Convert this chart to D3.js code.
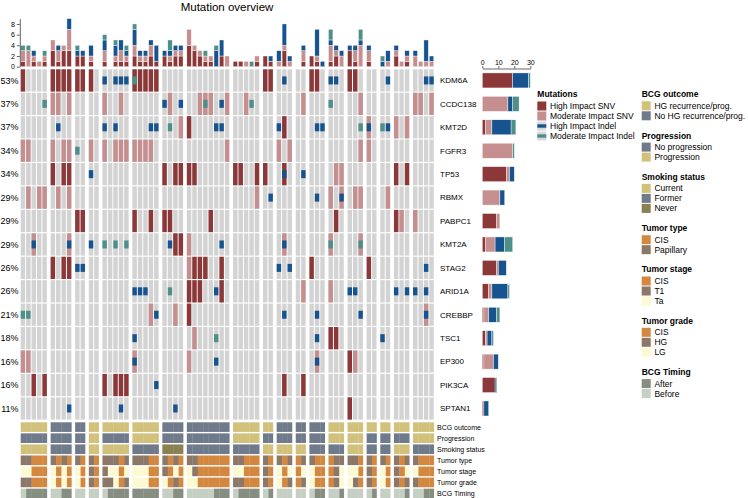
<!DOCTYPE html>
<html><head><meta charset="utf-8">
<script src="https://cdn.jsdelivr.net/npm/d3@7"></script>
<style>
body{margin:0;background:#fff}
svg{display:block}
text{font-family:"Liberation Sans",Arial,Helvetica,sans-serif;fill:#000}
</style>
</head><body>
<svg id="c" width="748" height="498"></svg>
<script>
// ---------------- data ----------------
const genes = ["KDM6A","CCDC138","KMT2D","FGFR3","TP53","RBMX","PABPC1","KMT2A","STAG2","ARID1A","CREBBP","TSC1","EP300","PIK3CA","SPTAN1"];
const pctLabels = ["53%","37%","37%","34%","34%","29%","29%","29%","26%","26%","21%","18%","16%","16%","11%"];
// number of sample columns in each patient block (left to right)
const groupSizes = [5,4,2,2,5,5,4,8,5,2,3,2,3,3,3,2,2,3,4];

const mutTypes = ["High Impact SNV","Moderate Impact SNV","High Impact Indel","Moderate Impact Indel"];
// column indices (0-based) carrying each alteration, one list per gene (same order as genes)
const highSNV = [
  [0,5,6,7,8,9,10,11,18,19,20,21,22,40,41,47,48,53,54],
  [],
  [27,43],
  [],
  [5,7,8,23,25,26,27,28,35,36,39,40,43,60,62],
  [],
  [9,10,18,21,23,24,31,51,60],
  [25,26],
  [5,7,8,28,29,30,33,47,56],
  [27,28,29,33],
  [27],
  [50,51],
  [53],
  [2,4,13,15,16,17,43,46],
  [53]
];
const modSNV = [
  [],
  [5,6,8,13,16,24,29,30,31,34,37,46,55,63,64,66],
  [26,56,60,62],
  [0,1,5,7,8,11,13,15,16,17,18,19,20,21,34,42,44,55,56],
  [51,52],
  [1,3,4,6,8,39,50,52,54,55,59],
  [61,63],
  [2,8,27,43,50,55],
  [27],
  [46,50],
  [21,25,65],
  [28],
  [0,1,18,27,48,54],
  [],
  []
];
const highIndel = [
  [13,15,16,17,43,50,51,59,65,66],
  [23,26,33],
  [6,13,15,21,22,32,33,42,48,49,56,59],
  [],
  [11,43,46],
  [41,48,52],
  [],
  [2,8,11,24,33,43],
  [9,10,42,44,65],
  [18,19,20,32,53,54,60,62,63,65],
  [22,43,48,55,65],
  [18,48,58],
  [18,32,48],
  [22],
  [8,16,25]
];
const modIndel = [
  [18],
  [4,30,38,50],
  [24,55,58],
  [9],
  [],
  [],
  [],
  [13,15,17,50,55],
  [],
  [24],
  [0,1],
  [32],
  [],
  [],
  []
];

// annotation tracks
const trackNames = ["BCG outcome","Progression","Smoking status","Tumor type","Tumor stage","Tumor grade","BCG Timing"];
// per patient block
const bcgOutcomeBlocks = ["HG","No","No","HG","HG","HG","No","No","HG","HG","No","No","No","HG","HG","HG","HG","HG","HG"];
const progressionBlocks = ["No","No","No","Prog","No","Prog","No","No","Prog","No","No","No","No","Prog","Prog","No","No","No","Prog"];
const smokingBlocks = ["Current","Former","Former","Current","Current","Former","Never","Former","Former","Current","Current","Current","Former","Former","Current","Former","Former","Current","Former"];
// per sample column
const tumorType = ["Pap","Pap","CIS","CIS","CIS", "Pap","CIS","Pap","CIS", "Pap","CIS", "Pap","CIS",
  "Pap","Pap","Pap","CIS","Pap", "Pap","Pap","Pap","CIS","CIS", "Pap","CIS","Pap","CIS",
  "Pap","Pap","CIS","CIS","CIS","CIS","CIS","CIS", "Pap","Pap","CIS","CIS","CIS", "Pap","CIS",
  "Pap","CIS","Pap", "CIS","Pap", "Pap","CIS","CIS", "CIS","Pap","Pap", "Pap","Pap","CIS",
  "Pap","CIS", "Pap","CIS", "Pap","CIS","Pap", "Pap","CIS","CIS","CIS"];
const tumorStage = ["Ta","Ta","CIS","CIS","CIS", "Ta","CIS","Ta","CIS", "Ta","CIS", "T1","CIS",
  "T1","Ta","Ta","CIS","Ta", "Ta","Ta","Ta","CIS","CIS", "T1","CIS","Ta","CIS",
  "Ta","T1","CIS","CIS","CIS","CIS","CIS","CIS", "Ta","Ta","CIS","CIS","CIS", "T1","CIS",
  "Ta","CIS","Ta", "CIS","Ta", "Ta","CIS","CIS", "CIS","T1","Ta", "Ta","Ta","CIS",
  "T1","CIS", "Ta","CIS", "T1","CIS","Ta", "Ta","CIS","CIS","CIS"];
const tumorGrade = ["HG","HG","CIS","CIS","CIS", "LG","CIS","LG","CIS", "LG","CIS", "HG","CIS",
  "HG","HG","LG","CIS","HG", "LG","LG","LG","CIS","CIS", "LG","CIS","HG","CIS",
  "LG","LG","CIS","CIS","CIS","CIS","CIS","CIS", "HG","HG","CIS","CIS","CIS", "HG","CIS",
  "LG","CIS","HG", "CIS","HG", "LG","CIS","CIS", "CIS","HG","LG", "LG","HG","CIS",
  "HG","CIS", "LG","CIS", "HG","CIS","HG", "HG","CIS","CIS","CIS"];
const bcgTiming = ["Before","After","After","After","After", "Before","Before","After","After", "Before","Before", "Before","Before",
  "Before","After","After","After","After", "After","After","After","After","After", "Before","Before","After","After",
  "Before","Before","Before","Before","Before","After","After","After", "Before","After","After","After","After", "Before","After",
  "Before","Before","Before", "Before","Before", "Before","After","After", "Before","Before","After", "Before","Before","Before",
  "Before","After", "Before","Before", "Before","Before","After", "Before","Before","After","After"];

const yTopTicks = [0,2,4,6,8];
const xRightTicks = [0,10,20,30];

// ---------------- styles ----------------
const mutColor = {"High Impact SNV":"#8d3838","Moderate Impact SNV":"#c58f8f","High Impact Indel":"#17548f","Moderate Impact Indel":"#4f8f8a"};
const C_KHAKI="#d1c17b", C_SLATE="#6f7a8b", C_OLIVE="#8a8050", C_ORANGE="#d3873f", C_BROWN="#8b7868", C_LIGHT="#fbfad3", C_AFTER="#868d81", C_BEFORE="#c5cfc3";
const legends = [
  {title:"BCG outcome", items:[["HG recurrence/prog.",C_KHAKI],["No HG recurrence/prog.",C_SLATE]]},
  {title:"Progression", items:[["No progression",C_SLATE],["Progression",C_KHAKI]]},
  {title:"Smoking status", items:[["Current",C_KHAKI],["Former",C_SLATE],["Never",C_OLIVE]]},
  {title:"Tumor type", items:[["CIS",C_ORANGE],["Papillary",C_BROWN]]},
  {title:"Tumor stage", items:[["CIS",C_ORANGE],["T1",C_BROWN],["Ta",C_LIGHT]]},
  {title:"Tumor grade", items:[["CIS",C_ORANGE],["HG",C_BROWN],["LG",C_LIGHT]]},
  {title:"BCG Timing", items:[["After",C_AFTER],["Before",C_BEFORE]]}
];
const colorMaps = {
  "BCG outcome": {HG:C_KHAKI, No:C_SLATE},
  "Progression": {No:C_SLATE, Prog:C_KHAKI},
  "Smoking status": {Current:C_KHAKI, Former:C_SLATE, Never:C_OLIVE},
  "Tumor type": {CIS:C_ORANGE, Pap:C_BROWN},
  "Tumor stage": {CIS:C_ORANGE, T1:C_BROWN, Ta:C_LIGHT},
  "Tumor grade": {CIS:C_ORANGE, HG:C_BROWN, LG:C_LIGHT},
  "BCG Timing": {After:C_AFTER, Before:C_BEFORE}
};

// ---------------- layout ----------------
const svg = d3.select("#c");
const nCols = d3.sum(groupSizes);
const colGroup = [];
groupSizes.forEach((s,g)=>{ for(let k=0;k<s;k++) colGroup.push(g); });
const gapUnits = 0.514;
const totalUnits = nCols + (groupSizes.length-1)*gapUnits;
const xU = d3.scaleLinear().domain([0,totalUnits]).range([20.7, 20.7 + totalUnits*5.43]);
const pitch = xU(1)-xU(0);
const cellW = pitch - 1;
const colX = i => xU(i + colGroup[i]*gapUnits);

const yRow = d3.scaleBand().domain(genes).range([69.3, 419.6]).paddingInner(0.05);
const rowH = yRow.bandwidth();

const lists = [highSNV, modSNV, highIndel, modIndel];
const mat = genes.map((g,gi)=> d3.range(nCols).map(c => mutTypes.filter((t,ti)=> lists[ti][gi].includes(c))));

// heatmap cells
const hm = svg.append("g");
genes.forEach((g,gi)=>{
  d3.range(nCols).forEach(c=>{
    hm.append("rect").attr("x",colX(c)).attr("y",yRow(g)).attr("width",cellW).attr("height",rowH).attr("fill","#d3d3d3");
    const m = mat[gi][c];
    m.filter(t=>t.includes("SNV")).forEach(t=>{
      hm.append("rect").attr("x",colX(c)).attr("y",yRow(g)).attr("width",cellW).attr("height",rowH).attr("fill",mutColor[t]);
    });
    m.filter(t=>t.includes("Indel")).forEach(t=>{
      const h = rowH*0.36;
      hm.append("rect").attr("x",colX(c)).attr("y",yRow(g)+(rowH-h)/2).attr("width",cellW).attr("height",h).attr("fill",mutColor[t]);
    });
  });
});

// row labels
genes.forEach((g,gi)=>{
  svg.append("text").attr("x",18.5).attr("y",yRow(g)+rowH/2).attr("dy","0.35em").attr("text-anchor","end").attr("font-size",9).text(pctLabels[gi]);
  svg.append("text").attr("x",440).attr("y",yRow(g)+rowH/2).attr("dy","0.35em").attr("font-size",8).text(g);
});

// top barplot
const yTop = d3.scaleLinear().domain([0,9]).range([66.7,18.6]);
const topG = svg.append("g");
d3.range(nCols).forEach(c=>{
  let acc=0;
  mutTypes.forEach((t,ti)=>{
    const n = genes.filter((g,gi)=> lists[ti][gi].includes(c)).length;
    if(n>0){
      topG.append("rect").attr("x",colX(c)).attr("width",cellW)
        .attr("y",yTop(acc+n)).attr("height",yTop(acc)-yTop(acc+n))
        .attr("fill",mutColor[t]).attr("stroke","#fff").attr("stroke-width",0.4);
      acc+=n;
    }
  });
});
const axL = svg.append("g").attr("transform","translate(19.8,0)")
  .call(d3.axisLeft(yTop).tickValues(yTopTicks).tickSize(3).tickSizeOuter(0).tickPadding(2));
axL.selectAll("text").attr("font-size",7).attr("font-family","Liberation Sans, Arial, sans-serif");
axL.selectAll("path,line").attr("stroke","#222").attr("stroke-width",0.7);

// right barplot
const xR = d3.scaleLinear().domain([0,30]).range([482.3,530.3]);
const rG = svg.append("g");
genes.forEach((g,gi)=>{
  let acc=0;
  const bh = 15;
  const by = yRow(g)+rowH/2-bh/2;
  mutTypes.forEach((t,ti)=>{
    const n = lists[ti][gi].length;
    if(n>0){
      rG.append("rect").attr("x",xR(acc)).attr("width",xR(acc+n)-xR(acc)).attr("y",by).attr("height",bh)
        .attr("fill",mutColor[t]).attr("stroke","#fff").attr("stroke-width",0.4);
      acc+=n;
    }
  });
});
const axT = svg.append("g").attr("transform","translate(0,68.5)")
  .call(d3.axisTop(xR).tickValues(xRightTicks).tickSize(2.5).tickSizeOuter(0).tickPadding(1.5));
axT.selectAll("text").attr("font-size",7).attr("font-family","Liberation Sans, Arial, sans-serif");
axT.selectAll("path,line").attr("stroke","#222").attr("stroke-width",0.7);

// annotations
const yAnn = d3.scaleBand().domain(trackNames).range([422.3,498.3]).paddingInner(0.13);
const annVals = {
  "BCG outcome": d3.range(nCols).map(c=>bcgOutcomeBlocks[colGroup[c]]),
  "Progression": d3.range(nCols).map(c=>progressionBlocks[colGroup[c]]),
  "Smoking status": d3.range(nCols).map(c=>smokingBlocks[colGroup[c]]),
  "Tumor type": tumorType, "Tumor stage": tumorStage, "Tumor grade": tumorGrade, "BCG Timing": bcgTiming
};
const annG = svg.append("g");
trackNames.forEach(tn=>{
  d3.range(nCols).forEach(c=>{
    const last = (c===nCols-1) || colGroup[c+1]!==colGroup[c];
    annG.append("rect").attr("x",colX(c)).attr("y",yAnn(tn))
      .attr("width", last ? cellW+0.3 : pitch+0.3).attr("height",yAnn.bandwidth())
      .attr("fill",colorMaps[tn][annVals[tn][c]]);
  });
  svg.append("text").attr("x",437).attr("y",yAnn(tn)+yAnn.bandwidth()/2).attr("dy","0.35em").attr("font-size",7).text(tn);
});

// title
svg.append("text").attr("x",227).attr("y",10.5).attr("text-anchor","middle").attr("font-size",11.5).text("Mutation overview");

// legends
const lgM = svg.append("g").attr("transform","translate(537.3,0)");
lgM.append("text").attr("x",0).attr("y",94.3).attr("dy","0.35em").attr("font-size",8.5).attr("font-weight","bold").text("Mutations");
mutTypes.forEach((t,i)=>{
  const cy = 106 + i*10;
  if(t.includes("Indel")){
    lgM.append("rect").attr("x",0).attr("y",cy-4.5).attr("width",9).attr("height",9).attr("fill","#d9d9d9");
    lgM.append("rect").attr("x",0).attr("y",cy-1.7).attr("width",9).attr("height",3.4).attr("fill",mutColor[t]);
  } else {
    lgM.append("rect").attr("x",0).attr("y",cy-4.5).attr("width",9).attr("height",9).attr("fill",mutColor[t]);
  }
  lgM.append("text").attr("x",12.7).attr("y",cy).attr("dy","0.35em").attr("font-size",8.5).text(t);
});
const lgA = svg.append("g").attr("transform","translate(641.7,0)");
let ly = 94.3;
legends.forEach(L=>{
  lgA.append("text").attr("x",0).attr("y",ly).attr("dy","0.35em").attr("font-size",8.5).attr("font-weight","bold").text(L.title);
  let iy = ly + 11.5;
  L.items.forEach(([lab,col],k)=>{
    lgA.append("rect").attr("x",0).attr("y",iy-4.5).attr("width",9).attr("height",9).attr("fill",col);
    lgA.append("text").attr("x",12.7).attr("y",iy).attr("dy","0.35em").attr("font-size",8.5).text(lab);
    if(k<L.items.length-1) iy += 10;
  });
  ly = iy + 19.8;
});
</script>
</body></html>
